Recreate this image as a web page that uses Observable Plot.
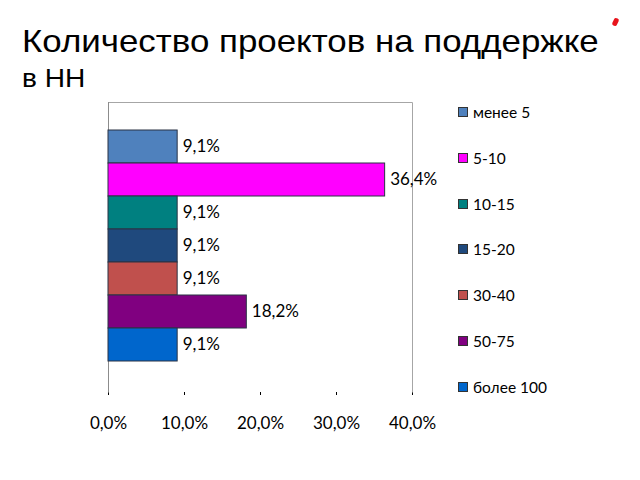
<!DOCTYPE html>
<html>
<head>
<meta charset="utf-8">
<script src="https://cdn.jsdelivr.net/npm/d3@7"></script>
<script src="https://cdn.jsdelivr.net/npm/@observablehq/plot@0.6"></script>
<style>
  html, body { margin: 0; padding: 0; background: #fff; }
  #wrap { position: relative; width: 640px; height: 480px; overflow: hidden; }
  #title { position: absolute; left: 22px; top: 25px; font-family: "Liberation Sans", Arial, sans-serif; font-size: 32px; line-height: 32px; color: #000; white-space: nowrap; transform: scaleX(1.09); transform-origin: 0 0; }
  #subtitle { position: absolute; left: 22px; top: 65px; font-family: "Liberation Sans", Arial, sans-serif; font-size: 26px; line-height: 26px; color: #000; white-space: nowrap; transform: scaleX(1.08); transform-origin: 0 0; }
  #mark { position: absolute; left: 613px; top: 18px; width: 5px; height: 8px; background: #e8141c; border-radius: 2px; transform: rotate(25deg); }
  #chart { position: absolute; left: 0; top: 0; }
  #legend { position: absolute; left: 0; top: 0; font-family: Lato, "Open Sans", sans-serif; font-size: 15.5px; color: #000; }
  .item { position: absolute; left: 458px; display: flex; align-items: center; white-space: nowrap; }
  .sw { width: 8px; height: 8px; border: 1px solid #333; margin-right: 5px; }
</style>
</head>
<body>
<div id="wrap">
  <div id="title">Количество проектов на поддержке</div>
  <div id="subtitle">в НН</div>
  <div id="mark"></div>
  <div id="chart"></div>
  <div id="legend"></div>
</div>
<script>
const categories = ["менее 5", "5-10", "10-15", "15-20", "30-40", "50-75", "более 100"];
const values = [9.1, 36.4, 9.1, 9.1, 9.1, 18.2, 9.1];
const colors = ["#4F81BD", "#FF00FF", "#008080", "#1F497D", "#C0504D", "#800080", "#0066CC"];
const xTicks = [0, 10, 20, 30, 40];

const fmt = d => d.toFixed(1).replace(".", ",") + "%";
const data = categories.map((c, i) => ({category: c, value: values[i]}));

const chart = Plot.plot({
  width: 640,
  height: 480,
  marginTop: 102,
  marginBottom: 88,
  marginLeft: 108,
  marginRight: 228,
  style: { fontFamily: "Lato, 'Open Sans', sans-serif", fontSize: "17px", color: "#000", background: "transparent" },
  x: { domain: [0, 40], ticks: xTicks, tickFormat: fmt, tickSize: 3, tickPadding: 21, label: null },
  y: { domain: categories, padding: 0, insetTop: 26, insetBottom: 29, axis: null },
  color: { domain: categories, range: colors },
  marks: [
    Plot.frame({ stroke: "#a6a6a6", strokeDasharray: "594,304,290" }),
    Plot.ruleX([0], { stroke: "#8c8c8c" }),
    Plot.barX(data, { x: "value", y: "category", fill: "category", stroke: "#2a3345", strokeWidth: 1 }),
    Plot.text(data, { x: "value", y: "category", text: d => fmt(d.value), dx: 5, textAnchor: "start", fontSize: 17, fill: "#000" })
  ]
});
document.getElementById("chart").appendChild(chart);

const legend = document.getElementById("legend");
const legendTops = categories.map((c, i) => 103 + i * 45.8);
categories.forEach((c, i) => {
  const item = document.createElement("div");
  item.className = "item";
  item.style.top = legendTops[i] + "px";
  const sw = document.createElement("span");
  sw.className = "sw";
  sw.style.background = colors[i];
  const lb = document.createElement("span");
  lb.textContent = c;
  item.appendChild(sw);
  item.appendChild(lb);
  legend.appendChild(item);
});
</script>
</body>
</html>
